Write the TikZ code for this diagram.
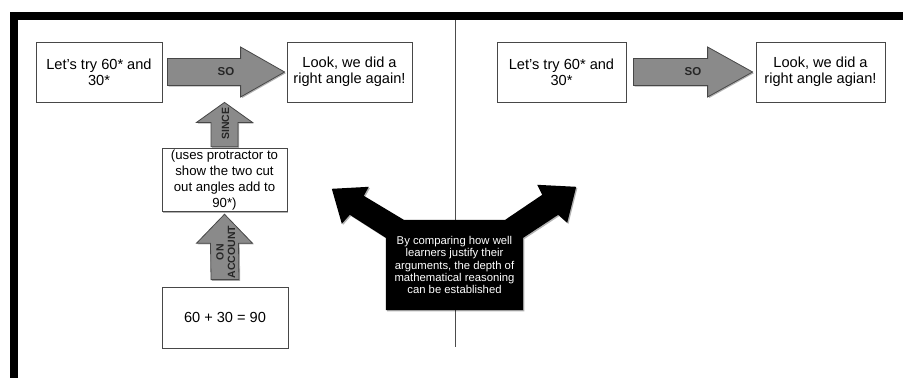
\documentclass[tikz,border=0pt]{standalone}
\usepackage{fontspec}
\setmainfont{Liberation Sans}
\usetikzlibrary{calc,shadows,backgrounds}
\begin{document}
\begin{tikzpicture}[x=1pt,y=-1pt,
  shadowed/.style={drop shadow={shadow xshift=1.2pt,shadow yshift=-1.2pt,opacity=0.3,fill=black}},
  box/.style={draw=black!72, fill=white, line width=0.8pt, align=center, inner sep=2pt,
    font=\fontsize{14.6}{16}\selectfont, shadowed},
  blockfill/.style={draw=black!72, fill=black!46, line width=0.8pt, line join=miter, shadowed},
  lbl/.style={font=\bfseries\fontsize{11.5}{12}\selectfont, inner sep=0pt, align=center, text=black!85},
  vlbl/.style={font=\bfseries\fontsize{10.5}{11.5}\selectfont, inner sep=0pt, align=center, text=black!85},
  bannertext/.style={text=white, align=center, inner sep=0pt,
    font=\fontsize{11.3}{12.3}\selectfont},
  frame/.style={fill=black}]

\useasboundingbox (0,0) rectangle (903,378);

% frame
\fill[frame] (10,12) rectangle (903,20);
\fill[frame] (10,12) rectangle (18,378);

% ---------- left panel ----------
\node[box, minimum width=126, minimum height=60] (A) at (99,72) {Let's try 60* and\\30*};
\node[box, minimum width=125, minimum height=60] (B) at (349.5,72) {Look, we did a\\right angle again!};
\node[box, minimum width=125, minimum height=62, font=\fontsize{13.2}{15.8}\selectfont] (C) at (224.5,180) {(uses protractor to\\show the two cut\\out angles add to\\90*)};
\node[box, minimum width=126, minimum height=61] (D) at (225,317.5) {60 + 30 = 90};

% SO arrow (left)
\coordinate (s1) at ($(A.east)+(5,0)$);
\coordinate (e1) at ($(B.west)+(-2,0)$);
\draw[blockfill] ($(s1)+(0,-13.5)$) -- ($(e1)+(-44,-13.5)$) -- ($(e1)+(-44,-25)$) -- (e1)
  -- ($(e1)+(-44,25)$) -- ($(e1)+(-44,13.5)$) -- ($(s1)+(0,13.5)$) -- cycle;
\node[lbl] (so1) at ($(s1)!0.5!(e1)$) {SO};

% SINCE arrow
\coordinate (s2) at ($(C.north)+(0,-1)$);
\coordinate (e2) at (C.north |- A.south);
\draw[blockfill] ($(s2)+(-13.5,0)$) -- ($(e2)+(-13.5,20)$) -- ($(e2)+(-28,20)$) -- (e2)
  -- ($(e2)+(28,20)$) -- ($(e2)+(13.5,20)$) -- ($(s2)+(13.5,0)$) -- cycle;
\node[vlbl, rotate=90] (since) at ($(s2)!0.52!(e2)+(1,0)$) {SINCE};

% ON ACCOUNT arrow
\coordinate (s3) at ($(D.north)+(0,-7)$);
\coordinate (e3) at ($(C.south)+(0,2)$);
\draw[blockfill] ($(s3)+(-14,0)$) -- ($(e3)+(-14,29)$) -- ($(e3)+(-28,29)$) -- (e3)
  -- ($(e3)+(28,29)$) -- ($(e3)+(14,29)$) -- ($(s3)+(14,0)$) -- cycle;
\node[vlbl, rotate=90] (onacc) at ($(s3)!0.42!(e3)+(1,0)$) {ON\\ACCOUNT};

% ---------- right panel ----------
\node[box, minimum width=129, minimum height=60] (E) at (561.5,72) {Let's try 60* and\\30*};
\node[box, minimum width=129, minimum height=60] (F) at (820.5,72) {Look, we did a\\right angle agian!};
\coordinate (s4) at ($(E.east)+(7,0)$);
\coordinate (e4) at ($(F.west)+(-3,0)$);
\draw[blockfill] ($(s4)+(0,-13.5)$) -- ($(e4)+(-45,-13.5)$) -- ($(e4)+(-45,-25)$) -- (e4)
  -- ($(e4)+(-45,25)$) -- ($(e4)+(-45,13.5)$) -- ($(s4)+(0,13.5)$) -- cycle;
\node[lbl] (so2) at ($(s4)!0.5!(e4)$) {SO};

% ---------- centre banner ----------
\node[bannertext, minimum width=137, minimum height=90] (M) at (454.5,265)
  {By comparing how well\\learners justify their\\arguments, the depth of\\mathematical reasoning\\can be established};

\begin{scope}[on background layer]
  \coordinate (top) at (455,20);
  \coordinate (bot) at (455,347);
  \draw[black!70, line width=0.9pt] (top) -- (bot);
  \fill[black, shadowed]
    ($(M.north west)+(0,18)$) -- ($(M.north west)+(-36,-5)$) -- ($(M.north west)+(-44,4)$)
    -- ($(M.north west)+(-54,-31)$) -- ($(M.north west)+(-17,-33)$) -- ($(M.north west)+(-22,-24)$)
    -- ($(M.north west)+(18,0)$)
    -- ($(M.north east)+(-18,0)$) -- ($(M.north east)+(19,-25)$) -- ($(M.north east)+(14,-35)$)
    -- ($(M.north east)+(53,-33)$) -- ($(M.north east)+(44,3)$) -- ($(M.north east)+(35,-5)$)
    -- ($(M.north east)+(0,18)$) -- (M.south east) -- (M.south west) -- cycle;
\end{scope}
\end{tikzpicture}
\end{document}
